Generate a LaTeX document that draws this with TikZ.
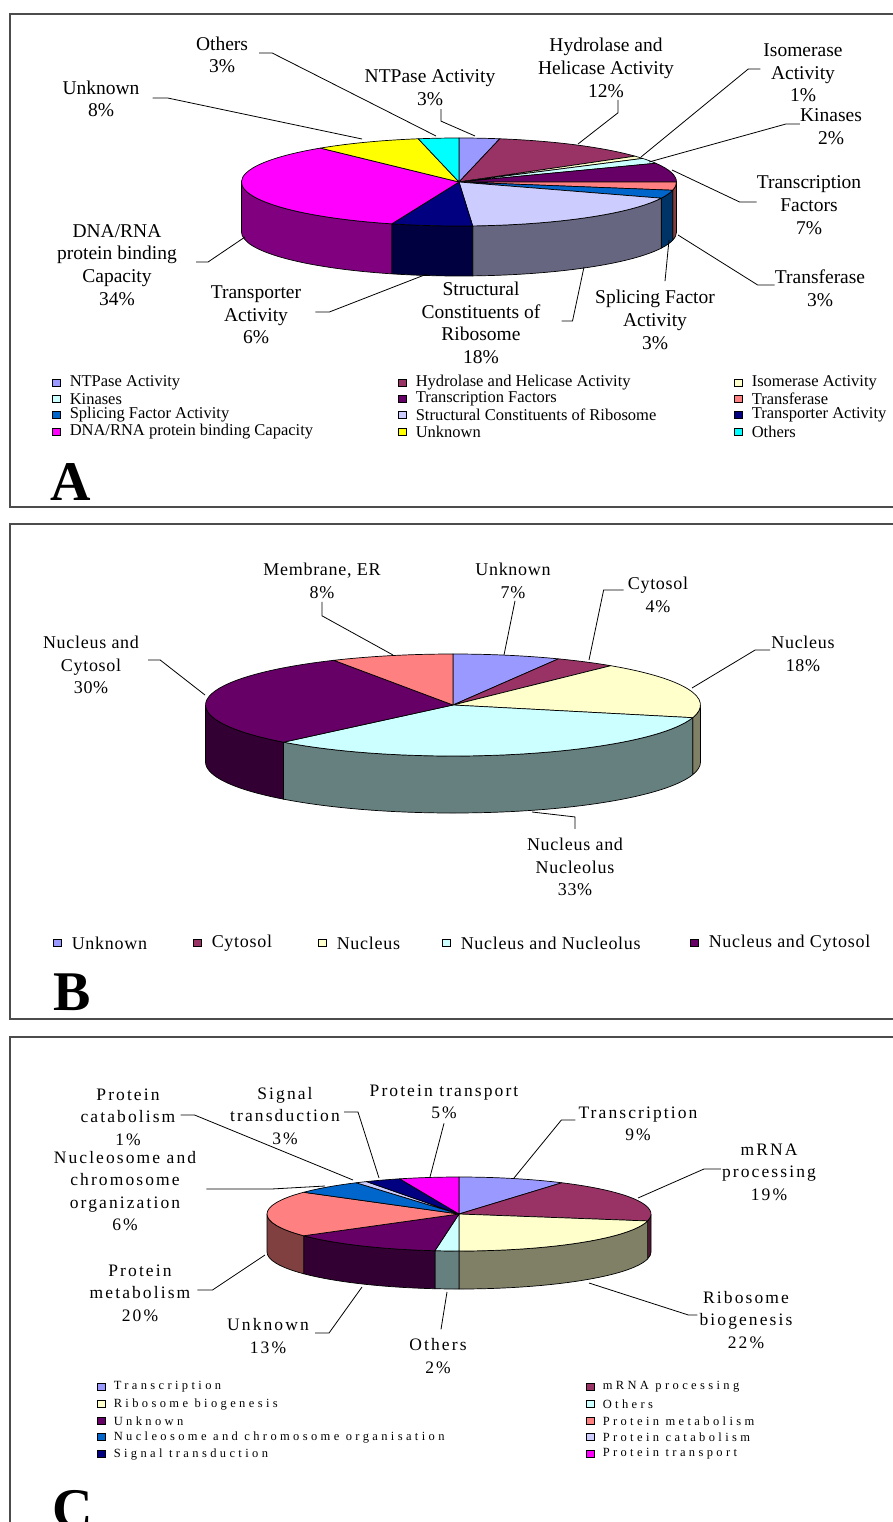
\documentclass[tikz,border=0pt]{standalone}
\usepackage{fontspec}
\setmainfont{Liberation Serif}
\newfontfamily\lsB[LetterSpace=4]{Liberation Serif}
\newfontfamily\lsC[LetterSpace=12]{Liberation Serif}
\newfontfamily\lsCkey[LetterSpace=27]{Liberation Serif}
\usetikzlibrary{positioning}
\definecolor{cPeri}{HTML}{9999FF}
\definecolor{cPlum}{HTML}{993366}
\definecolor{cIvory}{HTML}{FFFFCC}
\definecolor{cAqua}{HTML}{CCFFFF}
\definecolor{cGrape}{HTML}{660066}
\definecolor{cCoral}{HTML}{FF8080}
\definecolor{cOcean}{HTML}{0066CC}
\definecolor{cLilac}{HTML}{CCCCFF}
\definecolor{cNavy}{HTML}{000080}
\definecolor{cPink}{HTML}{FF00FF}
\definecolor{cYellow}{HTML}{FFFF00}
\definecolor{cCyan}{HTML}{00FFFF}
\tikzset{
  slice/.style={draw=black, line width=0.7pt, line join=round},
  leader/.style={draw, line width=0.8pt},
  panel/.style={draw=black!70, line width=1.6pt},
  panelid/.style={anchor=base west, inner sep=0pt, font=\fontsize{56}{56}\selectfont\bfseries},
  keybox/.style={draw, line width=0.6pt, minimum size=7.5pt, inner sep=0pt},
  lblA/.style={align=center, inner sep=0pt, font=\fontsize{19.5}{22.7}\selectfont},
  legA/.style={anchor=west, inner sep=0pt, font=\fontsize{16.5}{16}\selectfont},
  lblB/.style={align=center, inner sep=0pt, font=\lsB\fontsize{18}{22.5}\selectfont},
  legB/.style={anchor=west, inner sep=0pt, font=\lsB\fontsize{18}{18}\selectfont},
  lblC/.style={align=center, inner sep=0pt, font=\lsC\fontsize{17.5}{22.5}\selectfont},
  legC/.style={anchor=west, inner sep=0pt, font=\lsCkey\fontsize{12.5}{12}\selectfont}
}
\newcommand{\setpie}[5]{\def\pcx{#1}\def\pcy{#2}\def\prx{#3}\def\pry{#4}\def\pdep{#5}}
\newcommand{\pieslice}[3]{%
  \pgfmathsetmacro{\angA}{3.6*#1-90}%
  \pgfmathsetmacro{\angB}{3.6*#2-90}%
  \pgfmathsetmacro{\sideA}{max(\angA,0)}%
  \pgfmathsetmacro{\sideB}{min(\angB,180)}%
  \ifdim\sideB pt>\sideA pt
    \filldraw[slice, fill=#3!50!black] (\pcx,\pcy) ++({\prx*cos(\sideA)},{\pry*sin(\sideA)})
      arc[start angle=\sideA, end angle=\sideB, x radius=\prx, y radius=\pry] -- ++(0,\pdep)
      arc[start angle=\sideB, end angle=\sideA, x radius=\prx, y radius=\pry] -- cycle;
  \fi
  \filldraw[slice, fill=#3] (\pcx,\pcy) -- ++({\prx*cos(\angA)},{\pry*sin(\angA)})
    arc[start angle=\angA, end angle=\angB, x radius=\prx, y radius=\pry] -- cycle;
}

\begin{document}
\begin{tikzpicture}[x=1pt, y=-1pt]
	\clip (0,0) rectangle (893,1522);

	\draw[panel] (10,14) rectangle (905,507);
	\setpie{459}{182}{217.5}{44}{50}
	\foreach \p/\q/\c in {0/3/cPeri, 3/15/cPlum, 15/16/cIvory, 16/18/cAqua, 18/25/cGrape, 25/28/cCoral, 28/31/cOcean, 31/49/cLilac, 49/55/cNavy, 55/89/cPink, 89/97/cYellow, 97/100/cCyan}
		{\pieslice{\p}{\q}{\c}}
	\node[lblA] (aOth) at (222,55) {Others\\3\%};
	\node[lblA] (aUnk) at (101,99) {Unknown\\8\%};
	\node[lblA] (aNtp) at (430,88) {NTPase Activity\\3\%};
	\node[lblA] (aHyd) at (606,68) {Hydrolase and\\Helicase Activity\\12\%};
	\node[lblA] (aIso) at (803,73) {Isomerase\\Activity\\1\%};
	\node[lblA] (aKin) at (831,127) {Kinases\\2\%};
	\node[lblA] (aTf) at (809,205) {Transcription\\Factors\\7\%};
	\node[lblA] (aTrf) at (820,288) {Transferase\\3\%};
	\node[lblA] (aSpl) at (655,320) {Splicing Factor\\Activity\\3\%};
	\node[lblA] (aStr) at (481,323) {Structural\\Constituents of\\Ribosome\\18\%};
	\node[lblA] (aTrp) at (256,315) {Transporter\\Activity\\6\%};
	\node[lblA] (aDna) at (117,265) {DNA/RNA\\protein binding\\Capacity\\34\%};
	\coordinate (paOth) at (436,136);
	\coordinate (paUnk) at (362,139);
	\coordinate (paNtp) at (475,136);
	\coordinate (paHyd) at (578,144);
	\coordinate (paIso) at (641,157);
	\coordinate (paKin) at (649,162);
	\coordinate (paTf) at (672,170);
	\coordinate (paTrf) at (678,235);
	\coordinate (paSpl) at (669,240);
	\coordinate (paStr) at (584,267);
	\coordinate (paTrp) at (427,274);
	\coordinate (paDna) at (245,237);
	\draw[leader] (aOth.east) ++(11,-2) -- ++(13,0) -- (paOth);
	\draw[leader] (aUnk.east) ++(13,-1) -- ++(15,0) -- (paUnk);
	\draw[leader] (aNtp.south) ++(11,3) -- ++(0,12) -- (paNtp);
	\draw[leader] (aHyd.south) ++(12,2) -- ++(0,13) -- (paHyd);
	\draw[leader] (aIso.west) ++(-3,-4) -- ++(-12,0) -- (paIso);
	\draw[leader] (aKin.west) ++(0,-3) -- ++(-14,0) -- (paKin);
	\draw[leader] (aTf.west) ++(0,-3) -- ++(-17,0) -- (paTf);
	\draw[leader] (aTrf.west) ++(0,-3) -- ++(-17,0) -- (paTrf);
	\draw[leader] (aSpl.north) ++(10,-9) -- (paSpl);
	\draw[leader] (aStr.east) ++(21,-2) -- ++(11,0) -- (paStr);
	\draw[leader] (aTrp.east) ++(14,-3) -- ++(14,0) -- (paTrp);
	\draw[leader] (aDna.east) ++(19,-3) -- ++(12,0) -- (paDna);
	\foreach \x/\y/\c/\t [count=\i] in {53/383/cPeri/NTPase Activity, 399/383/cPlum/Hydrolase and Helicase Activity, 735/383/cIvory/Isomerase Activity, 53/399/cAqua/Kinases, 399/399/cGrape/Transcription Factors, 735/399/cCoral/Transferase, 53/415/cOcean/Splicing Factor Activity, 399/415/cLilac/Structural Constituents of Ribosome, 735/415/cNavy/Transporter Activity, 53/432/cPink/{DNA/RNA protein binding Capacity}, 399/432/cYellow/Unknown, 735/432/cCyan/Others}
	{
		\node[keybox, fill=\c] (kA\i) at (\x+3.5,\y) {};
		\node[legA, right=9pt of kA\i] (tA\i) {\t};
	}
	\node[panelid] (idA) at (50,500) {A};

	\draw[panel] (10,524) rectangle (905,1019);
	\setpie{453}{705}{247.5}{51}{57}
	\foreach \p/\q/\c in {0/7/cPeri, 7/11/cPlum, 11/29/cIvory, 29/62/cAqua, 62/92/cGrape, 92/100/cCoral}
		{\pieslice{\p}{\q}{\c}}
	\node[lblB] (bMem) at (322,581) {Membrane, ER\\8\%};
	\node[lblB] (bUnk) at (513,581) {Unknown\\7\%};
	\node[lblB] (bCyt) at (658,595) {Cytosol\\4\%};
	\node[lblB] (bNuc) at (803,654) {Nucleus\\18\%};
	\node[lblB] (bNC) at (91,665) {Nucleus and\\Cytosol\\30\%};
	\node[lblB] (bNN) at (575,867) {Nucleus and\\Nucleolus\\33\%};
	\coordinate (pbMem) at (393,655);
	\coordinate (pbUnk) at (504,655);
	\coordinate (pbCyt) at (589,660);
	\coordinate (pbNuc) at (692,688);
	\coordinate (pbNC) at (205,695);
	\coordinate (pbNN) at (532,812);
	\draw[leader] (bMem.south) ++(0,3) -- ++(0,14) -- (pbMem);
	\draw[leader] (bUnk.south) ++(2,2) -- (pbUnk);
	\draw[leader] (bCyt.west) ++(-4,-5) -- ++(-20,0) -- (pbCyt);
	\draw[leader] (bNuc.west) ++(-1,-4) -- ++(-15,0) -- (pbNuc);
	\draw[leader] (bNC.east) ++(9,-5) -- ++(12,0) -- (pbNC);
	\draw[leader] (bNN.north) ++(0,-9) -- ++(0,-12) -- (pbNN);
	\foreach \x/\c/\t [count=\i] in {54/cPeri/Unknown, 194/cPlum/Cytosol, 319/cIvory/Nucleus, 443/cAqua/Nucleus and Nucleolus, 691/cGrape/Nucleus and Cytosol}
	{
		\node[keybox, fill=\c] (kB\i) at (\x+3.5,943) {};
		\node[legB, right=10pt of kB\i] (tB\i) {\t};
	}
	\node[panelid] (idB) at (53,1010) {B};

	\draw[panel] (10,1037) rectangle (905,1560);
	\setpie{459}{1214}{192}{37}{38}
	\foreach \p/\q/\c in {0/9/cPeri, 9/28/cPlum, 28/50/cIvory, 50/52/cAqua, 52/65/cGrape, 65/85/cCoral, 85/91/cOcean, 91/92/cLilac, 92/95/cNavy, 95/100/cPink}
		{\pieslice{\p}{\q}{\c}}
	\node[lblC] (cCat) at (128,1117) {Protein\\catabolism\\1\%};
	\node[lblC] (cSig) at (285,1116) {Signal\\transduction\\3\%};
	\node[lblC] (cPT) at (444,1102) {Protein transport\\5\%};
	\node[lblC] (cTr) at (638,1124) {Transcription\\9\%};
	\node[lblC] (cMrna) at (769,1172) {mRNA\\processing\\19\%};
	\node[lblC] (cNuc) at (125,1191) {Nucleosome and\\chromosome\\organization\\6\%};
	\node[lblC] (cPM) at (140,1293) {Protein\\metabolism\\20\%};
	\node[lblC] (cUnk) at (268,1336) {Unknown\\13\%};
	\node[lblC] (cOth) at (438,1356) {Others\\2\%};
	\node[lblC] (cRib) at (746,1320) {Ribosome\\biogenesis\\22\%};
	\coordinate (pcCat) at (353,1180);
	\coordinate (pcSig) at (379,1178);
	\coordinate (pcPT) at (430,1177);
	\coordinate (pcTr) at (514,1178);
	\coordinate (pcMrna) at (638,1198);
	\coordinate (pcNuc) at (325,1186);
	\coordinate (pcPM) at (265,1255);
	\coordinate (pcUnk) at (362,1287);
	\coordinate (pcOth) at (447,1292);
	\coordinate (pcRib) at (589,1283);
	\draw[leader] (cCat.east) ++(5,-2) -- ++(14,0) -- (pcCat);
	\draw[leader] (cSig.east) ++(4,-4) -- ++(14,0) -- (pcSig);
	\draw[leader] (cPT.south) ++(0,4) -- (pcPT);
	\draw[leader] (cTr.west) ++(-3,-4) -- ++(-14,0) -- (pcTr);
	\draw[leader] (cMrna.west) ++(-1,-3) -- ++(-17,0) -- (pcMrna);
	\draw[leader] (cNuc.east) ++(10,-2) -- ++(65,0) -- (pcNuc);
	\draw[leader] (cPM.east) ++(7,-3) -- ++(15,0) -- (pcPM);
	\draw[leader] (cUnk.east) ++(6,-3) -- ++(14,0) -- (pcUnk);
	\draw[leader] (cOth.north) ++(3,-9) -- (pcOth);
	\draw[leader] (cRib.west) ++(-2,-5) -- ++(-9,0) -- (pcRib);
	\foreach \x/\y/\c/\t [count=\i] in {98/1387/cPeri/Transcription, 587/1387/cPlum/mRNA processing, 98/1404/cIvory/Ribosome biogenesis, 587/1404/cAqua/Others, 98/1421/cGrape/Unknown, 587/1421/cCoral/Protein metabolism, 98/1437/cOcean/Nucleosome and chromosome organisation, 587/1437/cLilac/Protein catabolism, 98/1454/cNavy/Signal transduction, 587/1454/cPink/Protein transport}
	{
		\node[keybox, fill=\c] (kC\i) at (\x+3.5,\y) {};
		\node[legC, right=8pt of kC\i] (tC\i) {\t};
	}
	\node[panelid] (idC) at (52,1527) {C};

\end{tikzpicture}
\end{document}
